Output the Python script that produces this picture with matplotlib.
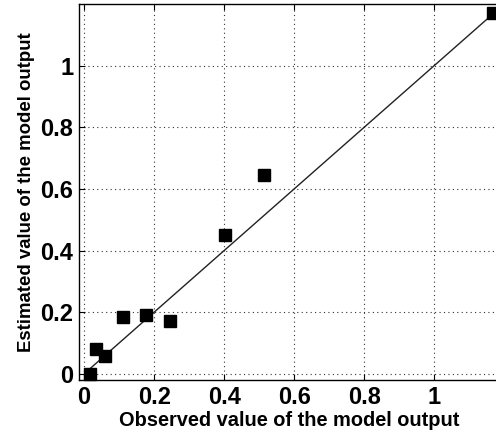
import matplotlib as mpl
mpl.use('Agg')
import matplotlib.pyplot as plt

observed = [0.017, 0.034, 0.061, 0.110, 0.176, 0.244, 0.403, 0.515, 1.169]
estimated = [0.000, 0.080, 0.058, 0.184, 0.190, 0.173, 0.449, 0.646, 1.171]

x_ticks = [0, 0.2, 0.4, 0.6, 0.8, 1]
y_ticks = [0, 0.2, 0.4, 0.6, 0.8, 1]
tick_labels = ['0', '0.2', '0.4', '0.6', '0.8', '1']

X_LABEL = "Observed value of the model output"
Y_LABEL = "Estimated value of the model output"

plt.rcParams['font.family'] = ['Liberation Sans', 'DejaVu Sans']
plt.rcParams['font.weight'] = 'bold'

fig = plt.figure(figsize=(4.96, 4.33), dpi=100)
# right edge of the box sits just past the picture edge, as in the original
ax = fig.add_axes([0.159, 0.1224, 0.847, 0.8684])

# 1:1 reference line between smallest and largest observation
lo, hi = min(observed), max(observed)
ax.plot([lo, hi], [lo, hi], color='#222222', linewidth=1.0, zorder=2)
ax.plot(observed, estimated, linestyle='none', marker='s', markersize=8,
        color='black', zorder=3, clip_on=False)

ax.set_xlim(-0.015, 1.185)
ax.set_ylim(-0.02, 1.2)
ax.set_xticks(x_ticks)
ax.set_xticklabels(tick_labels)
ax.set_yticks(y_ticks)
ax.set_yticklabels(tick_labels)

ax.tick_params(direction='in', top=True, right=False, labelsize=17, length=4, width=0.8, pad=4)
for lab in ax.get_xticklabels() + ax.get_yticklabels():
    lab.set_fontweight('bold')

ax.grid(True, linestyle=(0, (1, 3)), color='#333333', linewidth=0.8)
for s in ax.spines.values():
    s.set_linewidth(1.0)

ax.set_xlabel(X_LABEL, fontsize=14.4, fontweight='bold', labelpad=2)
ax.set_ylabel(Y_LABEL, fontsize=13.4, fontweight='bold', labelpad=4)

fig.savefig('out.png', dpi=100)
